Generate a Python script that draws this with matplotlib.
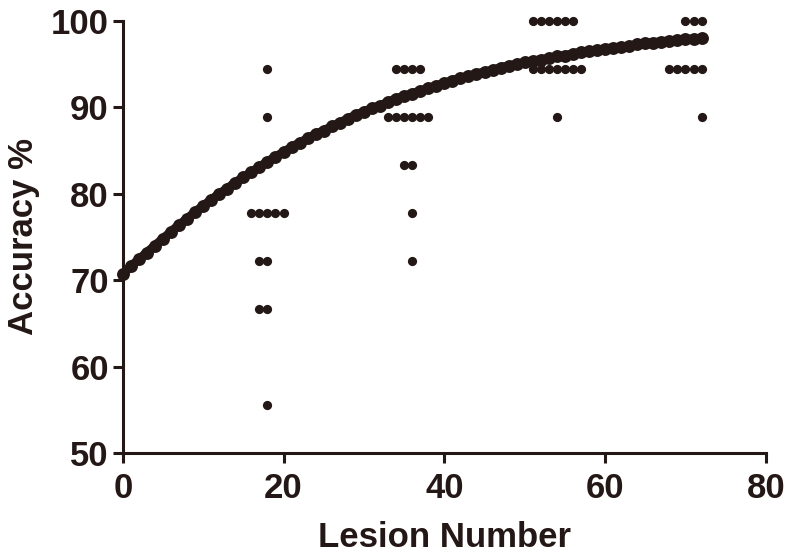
import numpy as np
import matplotlib
matplotlib.use("Agg")
import matplotlib.pyplot as plt

# group lesion numbers and (accuracy %, number of cases) for each group
group_x = [18, 36, 54, 72]
group_rows = [
    [(94.44, 1), (88.89, 1), (77.78, 5), (72.22, 2), (66.67, 2), (55.56, 1)],
    [(94.44, 4), (88.89, 6), (83.33, 2), (77.78, 1), (72.22, 1)],
    [(100.0, 6), (94.44, 7), (88.89, 1)],
    [(100.0, 3), (94.44, 5), (88.89, 1)],
]

# fitted curve at each lesion number 0..72
curve_x = list(range(0, 73))
curve_y = [
    70.7, 71.6, 72.4, 73.2, 74.0, 74.8, 75.6, 76.4, 77.1, 77.9,
    78.6, 79.3, 80.0, 80.6, 81.3, 81.9, 82.5, 83.1, 83.7, 84.3,
    84.8, 85.4, 85.9, 86.4, 86.9, 87.3, 87.8, 88.2, 88.7, 89.1,
    89.5, 89.9, 90.2, 90.6, 91.0, 91.3, 91.6, 91.9, 92.2, 92.5,
    92.8, 93.1, 93.4, 93.6, 93.9, 94.1, 94.3, 94.6, 94.8, 95.0,
    95.2, 95.4, 95.5, 95.7, 95.9, 96.0, 96.2, 96.4, 96.5, 96.6,
    96.8, 96.9, 97.0, 97.1, 97.3, 97.4, 97.5, 97.6, 97.7, 97.8,
    97.9, 97.9, 98.0,
]

ink = "#231815"
font = "Liberation Sans"

fig = plt.figure(figsize=(7.92, 5.53), dpi=100)
ax = fig.add_axes([0.155, 0.181, 0.812, 0.781])

# scatter rows, spread sideways like Prism does
for gi, (gx, rows) in enumerate(zip(group_x, group_rows)):
    for acc, n in rows:
        if gi == len(group_x) - 1:
            offs = np.arange(n) - (n - 1)
        else:
            offs = np.arange(n) - n // 2
        ax.scatter(gx + offs, [acc] * n, s=44, color=ink, lw=0, zorder=3,
                   clip_on=False)

ax.plot(curve_x, curve_y, color=ink, lw=6.5, solid_capstyle="round", zorder=2)
ax.plot(curve_x, curve_y, "o", color=ink, ms=9.3, mew=0, zorder=2,
        clip_on=False)

ax.set_xlim(0, 80)
ax.set_ylim(50, 100)
ax.set_xticks([0, 20, 40, 60, 80])
ax.set_yticks([50, 60, 70, 80, 90, 100])

for side in ["top", "right"]:
    ax.spines[side].set_visible(False)
for side in ["left", "bottom"]:
    ax.spines[side].set_linewidth(2.2)
    ax.spines[side].set_color(ink)
ax.tick_params(direction="out", length=7, width=2.2, color=ink)
ax.tick_params(axis="x", pad=7)
ax.tick_params(axis="y", pad=3)

for lab in ax.get_xticklabels() + ax.get_yticklabels():
    lab.set_fontfamily(font)
    lab.set_fontweight("bold")
    lab.set_fontsize(25)
    lab.set_color(ink)

ax.set_xlabel("Lesion Number", fontfamily=font, fontweight="bold",
              fontsize=25, color=ink, labelpad=11)
ax.set_ylabel("Accuracy %", fontfamily=font, fontweight="bold",
              fontsize=25, color=ink, labelpad=8)

fig.savefig("out.png", dpi=100)
